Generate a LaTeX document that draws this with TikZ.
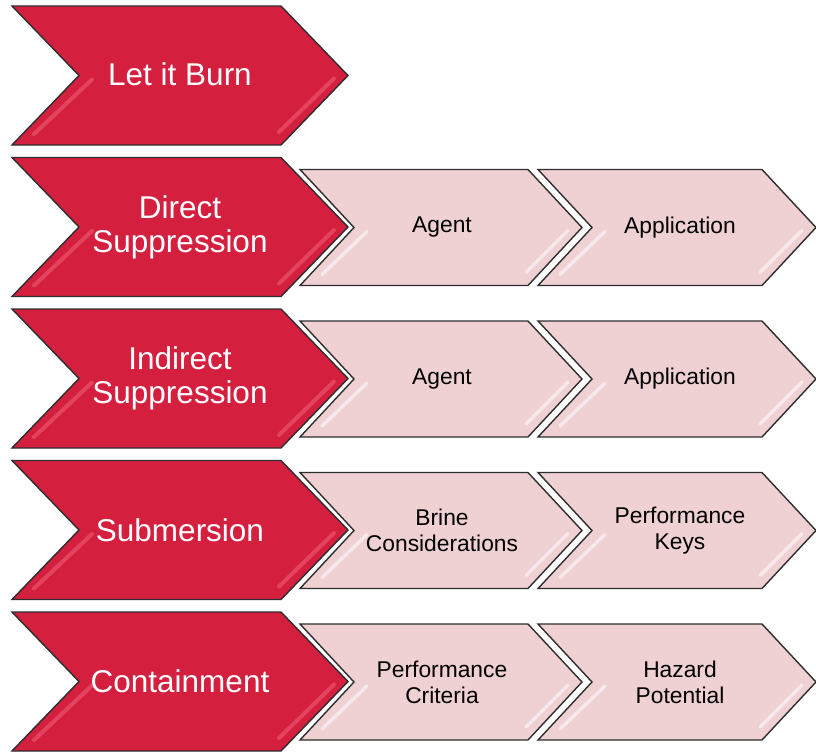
\documentclass[tikz,border=0pt]{standalone}
\usepackage{fontspec}
\setmainfont{Liberation Sans}
\definecolor{burn}{HTML}{D51F3F}
\definecolor{burnhi}{HTML}{EE5C75}
\definecolor{blush}{HTML}{EFD0D3}
\definecolor{edge}{HTML}{2E2E2E}
% chevron: left x, top y, width, height, tip depth, body style, gloss style
\newcommand{\chev}[7]{%
  \path[draw=white,line width=5pt,line join=miter]
    (#1,#2) -- ++(#3-#5,0) -- ++(#5,#4/2) -- ++(-#5,#4/2) -- ++(#5-#3,0) -- ++(#5,-#4/2) -- cycle;
  \draw[#6]
    (#1,#2) -- ++(#3-#5,0) -- ++(#5,#4/2) -- ++(-#5,#4/2) -- ++(#5-#3,0) -- ++(#5,-#4/2) -- cycle;
  \draw[#7]
    (#1+#5+13,#2+#4/2+4) -- (#1+22,#2+#4-11)
    (#1+#3-14,#2+#4/2+3) -- (#1+#3-#5-2,#2+#4-13);
}

\begin{document}
\begin{tikzpicture}[x=1pt,y=-1pt,
  redchev/.style={fill=burn,draw=edge,line width=1.4pt,line join=miter},
  pinkchev/.style={fill=blush,draw=edge,line width=1.4pt,line join=miter},
  redgloss/.style={draw=burnhi,line width=4pt,line cap=round,opacity=.6},
  pinkgloss/.style={draw=white,line width=3.5pt,line cap=round,opacity=.55},
  bigtext/.style={text=white,align=center,font=\fontsize{31.5}{34}\selectfont},
  smalltext/.style={text=black,align=center,font=\fontsize{22.8}{26}\selectfont}]
  \useasboundingbox (0,0) rectangle (816,755);
  \chev{12}{6}{336}{139}{67}{redchev}{redgloss}
  \node[bigtext] (burn) at (180,74) {Let it Burn};
  \foreach \t/\main/\first/\second [count=\i] in {
      157.5/{Direct\\Suppression}/{Agent}/{Application},
      309/{Indirect\\Suppression}/{Agent}/{Application},
      460.5/{Submersion}/{Brine\\Considerations}/{Performance\\Keys},
      612/{Containment}/{Performance\\Criteria}/{Hazard\\Potential}}
  {
    \chev{538}{\t+12}{278}{116}{54}{pinkchev}{pinkgloss}
    \chev{300}{\t+12}{282}{116}{54}{pinkchev}{pinkgloss}
    \chev{12}{\t}{336}{139}{67}{redchev}{redgloss}
    \node[bigtext] (main\i) at (180,\t+69.5) {\main};
    \node[smalltext] (first\i) at (442,\t+70) {\first};
    \node[smalltext] (second\i) at (680,\t+70) {\second};
  }
\end{tikzpicture}
\end{document}
